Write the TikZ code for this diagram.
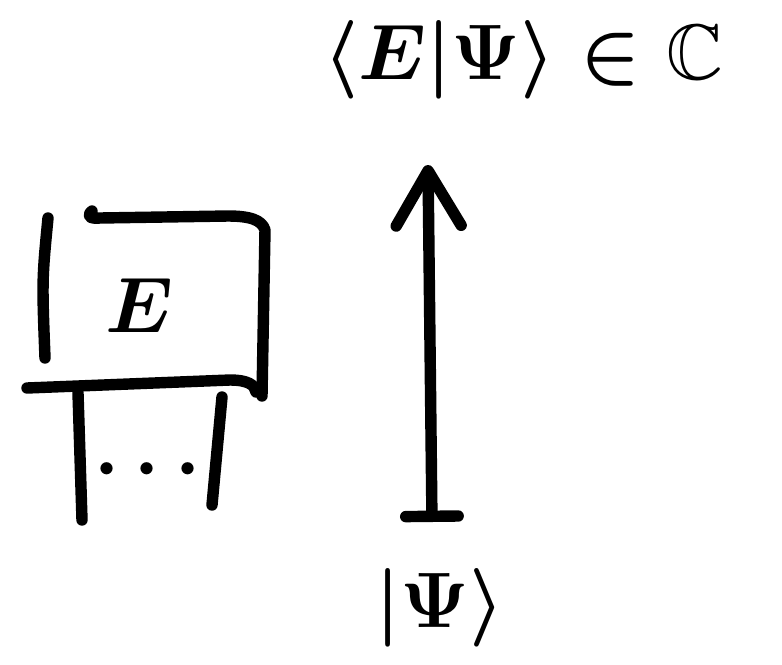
\documentclass[tikz,border=0pt]{standalone}
\usepackage{amsmath,amssymb}
\usetikzlibrary{arrows.meta, positioning}
\tikzset{
    stroke/.style={line width=6.5pt, line cap=round, line join=round},
    arrow/.style={stroke, {Bar[width=1.05cm, round]}-{Straight Barb[length=1.1cm, width=1.3cm, round]}},
    bigtext/.style={font=\Huge\boldmath, inner sep=1pt, scale=1.8, transform shape}
}
\begin{document}
\begin{tikzpicture}[x=0.02cm, y=-0.02cm]
    \useasboundingbox (0,0) rectangle (782,664);

    % Labels
    \node[bigtext] (amp) at (523,60) {$\langle E|\Psi\rangle \in \mathbb{C}$};
    \node[bigtext] (ket) at (440,608) {$|\Psi\rangle$};

    % Arrow from the state up to the amplitude
    \coordinate (tail) at (432,522);
    \coordinate (head) at (428,165);
    \draw[arrow] (tail) -- (head);

    % Box with E and its legs
    \node[bigtext] (elabel) at (140,305) {$E$};
    \draw[stroke] (48,218) .. controls (42,280) .. (45,358);
    \draw[stroke] (92,211) .. controls (86,216) and (90,219) .. (100,218) -- (228,216)
        .. controls (250,216) and (262,220) .. (265,230) -- (262,396);
    \draw[stroke] (27,388) -- (230,380) .. controls (248,380) and (255,385) .. (256,392);
    \draw[stroke] (78,393) -- (82,520);
    \draw[stroke] (222,397) -- (212,505);
    \node[bigtext] (dots) at (155,470) {$\cdots$};
\end{tikzpicture}
\end{document}
